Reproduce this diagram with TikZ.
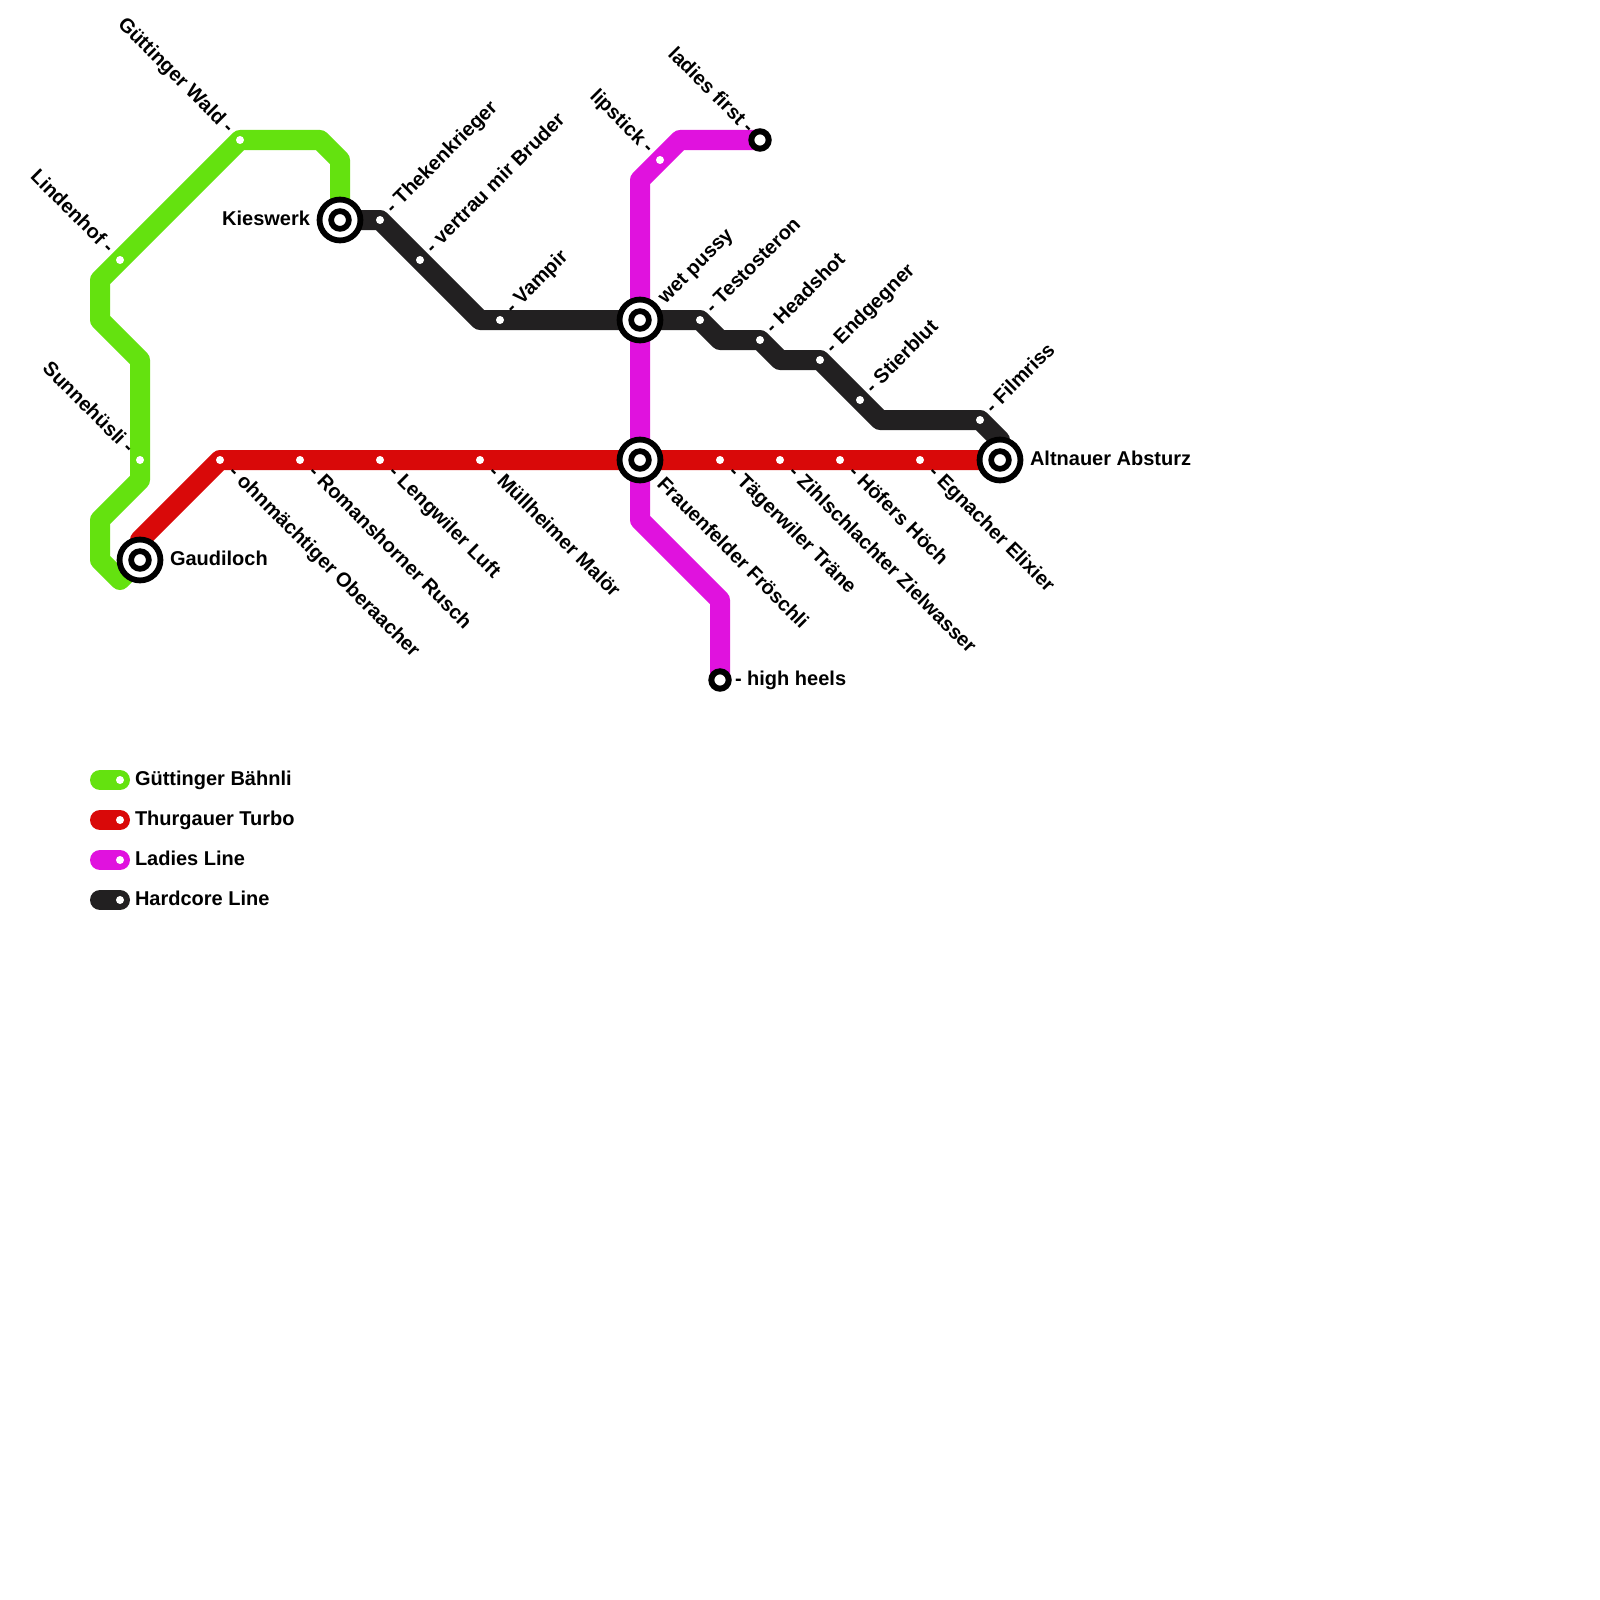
\documentclass[tikz,border=0pt]{standalone}
\usepackage{fontspec}
\setmainfont{Liberation Sans}
\definecolor{cgreen}{HTML}{64E20F}
\definecolor{cred}{HTML}{D90909}
\definecolor{cmag}{HTML}{E012DE}
\definecolor{cblack}{HTML}{222021}
\tikzset{
  lineseg/.style={line width=20pt,line join=round,line cap=round},
  stop/.style={circle,fill=white,draw=none,inner sep=0pt,outer sep=0pt,minimum size=8pt},
  inter/.style={circle,fill=white,draw=black,line width=5.8pt,inner sep=0pt,outer sep=0pt,minimum size=40.9pt},
  interin/.style={circle,fill=white,draw=black,line width=5.7pt,inner sep=0pt,outer sep=0pt,minimum size=17.7pt},
  term/.style={circle,fill=white,draw=black,line width=6pt,inner sep=0pt,outer sep=0pt,minimum size=17.4pt},
  txt/.style={font=\fontsize{20pt}{24pt}\selectfont\bfseries,text=black,inner sep=0pt,outer sep=0pt},
  lne/.style={txt,rotate=45,anchor=base west},
  lse/.style={txt,rotate=-45,anchor=base west},
  lnw/.style={txt,rotate=-45,anchor=base east},
  leg/.style={txt,anchor=base west},
}
\begin{document}
\begin{tikzpicture}[x=1pt,y=-1pt]
\useasboundingbox[fill=white] (0,0) rectangle (1600,1600);
% bends
\coordinate (g1) at (120,580);
\coordinate (g2) at (100,560);
\coordinate (g3) at (100,520);
\coordinate (g4) at (140,480);
\coordinate (g5) at (140,360);
\coordinate (g6) at (100,320);
\coordinate (g7) at (100,280);
\coordinate (g8) at (320,140);
\coordinate (g9) at (340,160);
\coordinate (r1) at (140,540);
\coordinate (b1) at (480,320);
\coordinate (b2) at (720,340);
\coordinate (b3) at (780,360);
\coordinate (b4) at (880,420);
\coordinate (b5) at (1000,440);
\coordinate (m1) at (680,140);
\coordinate (m2) at (640,180);
\coordinate (m3) at (640,520);
\coordinate (m4) at (720,600);
% anchors of the lines
\coordinate (Gaud) at (140,560);
\coordinate (Kies) at (340,220);
\coordinate (Wet) at (640,320);
\coordinate (Frau) at (640,460);
\coordinate (Alt) at (1000,460);
\coordinate (First) at (760,140);
\coordinate (Heels) at (720,680);
\coordinate (sGW) at (240,140);
\coordinate (sTK) at (380,220);
\coordinate (sTe) at (700,320);
\coordinate (sHe) at (760,340);
\coordinate (sEn) at (820,360);
\coordinate (sFi) at (980,420);
\coordinate (sOh) at (220,460);
% lines
\draw[lineseg,cgreen] (Gaud) -- (g1) -- (g2) -- (g3) -- (g4) -- (g5) -- (g6) -- (g7) -- (sGW) -- (g8) -- (g9) -- (Kies);
\draw[lineseg,cmag] (First) -- (m1) -- (m2) -- (m3) -- (m4) -- (Heels);
\draw[lineseg,cblack] (Kies) -- (sTK) -- (b1) -- (sTe) -- (b2) -- (sHe) -- (b3) -- (sEn) -- (b4) -- (sFi) -- (b5) -- (Alt);
\draw[lineseg,cred] (Gaud) -- (r1) -- (sOh) -- (Alt);
% plain stops
\foreach \n/\x/\y in {a1/120/260,a2/240/140,a3/140/460,
  c1/220/460,c2/300/460,c3/380/460,c4/480/460,c5/720/460,c6/780/460,c7/840/460,c8/920/460,
  d1/380/220,d2/420/260,d3/500/320,d4/700/320,d5/760/340,d6/820/360,d7/860/400,d8/980/420,
  e1/660/160}
  \node[stop] (\n) at (\x,\y) {};
% interchanges
\foreach \n/\p in {i1/Gaud,i2/Kies,i3/Wet,i4/Frau,i5/Alt}{
  \node[inter] (\n) at (\p) {};
  \node[interin] (\n c) at (\p) {};
}
\node[term] (t1) at (First) {};
\node[term] (t2) at (Heels) {};
% labels
\node[lnw] (l1) at (226.5,134.5) {Güttinger Wald -};
\node[lnw] (l2) at (106.5,254.5) {Lindenhof -};
\node[lnw] (l3) at (126.5,454.5) {Sunnehüsli -};
\node[lnw] (l4) at (646.5,154.5) {lipstick -};
\node[lnw] (l5) at (746.5,134.5) {ladies first -};
\node[lne] (l6) at (393,214) {- Thekenkrieger};
\node[lne] (l7) at (433,254) {- vertrau mir Bruder};
\node[lne] (l8) at (513,314) {- Vampir};
\node[lne] (l9) at (665.5,304.5) {wet pussy};
\node[lne] (l10) at (713,314) {- Testosteron};
\node[lne] (l11) at (773,334) {- Headshot};
\node[lne] (l12) at (833,354) {- Endgegner};
\node[lne] (l13) at (873,394) {- Stierblut};
\node[lne] (l14) at (993,414) {- Filmriss};
\node[lse] (l15) at (227.5,473.5) {- ohnmächtiger Oberaacher};
\node[lse] (l16) at (307.5,473.5) {- Romanshorner Rusch};
\node[lse] (l17) at (387.5,473.5) {- Lengwiler Luft};
\node[lse] (l18) at (487.5,473.5) {- Müllheimer Malör};
\node[lse] (l19) at (656,485) {Frauenfelder Fröschli};
\node[lse] (l20) at (727.5,473.5) {- Tägerwiler Träne};
\node[lse] (l21) at (787.5,473.5) {- Zihlschlachter Zielwasser};
\node[lse] (l22) at (847.5,473.5) {- Höfers Höch};
\node[lse] (l23) at (927.5,473.5) {- Egnacher Elixier};
\node[txt,anchor=base east] (l24) at (310,225) {Kieswerk};
\node[txt,anchor=base west] (l25) at (170,565) {Gaudiloch};
\node[txt,anchor=base west] (l26) at (1030,465) {Altnauer Absturz};
\node[txt,anchor=base west] (l27) at (735,685) {- high heels};
% legend
\foreach \k/\c/\t/\y in {1/cgreen/Güttinger Bähnli/780,2/cred/Thurgauer Turbo/820,3/cmag/Ladies Line/860,4/cblack/Hardcore Line/900}{
  \coordinate (la\k) at (100,\y);
  \coordinate (lb\k) at (120,\y);
  \draw[lineseg,\c] (la\k) -- (lb\k);
  \node[stop] (ls\k) at (lb\k) {};
  \node[leg] (lt\k) at (135,\y+5) {\t};
}
\end{tikzpicture}
\end{document}
